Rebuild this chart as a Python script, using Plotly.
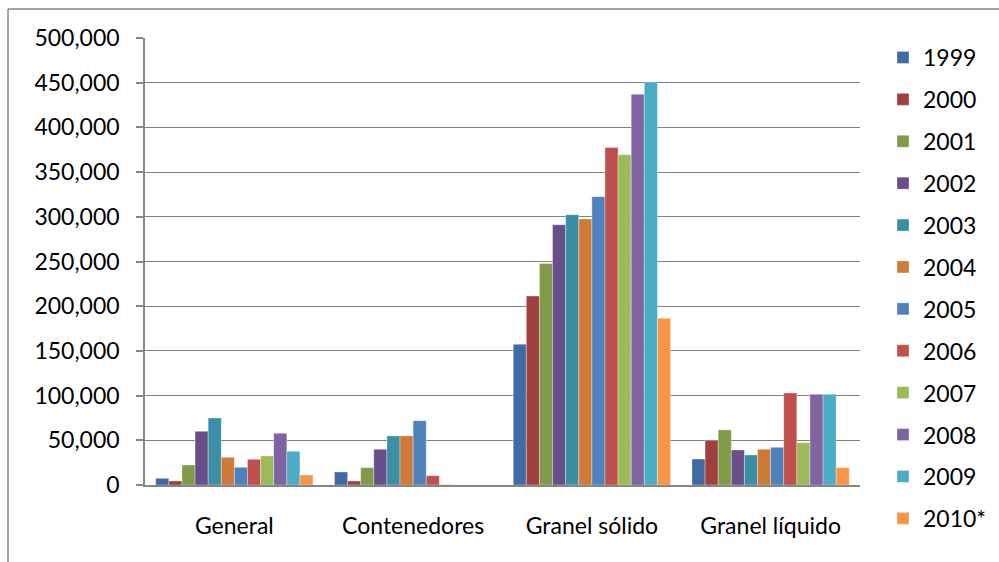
import plotly.graph_objects as go

categories = ["General", "Contenedores", "Granel sólido", "Granel líquido"]
years = ["1999", "2000", "2001", "2002", "2003", "2004",
         "2005", "2006", "2007", "2008", "2009", "2010*"]

v1999 = [7500, 14600, 157500, 29100]
v2000 = [4500, 4500, 211300, 50000]
v2001 = [22400, 19400, 247800, 61600]
v2002 = [60100, 40000, 291100, 39200]
v2003 = [75000, 54900, 302300, 33600]
v2004 = [31000, 54900, 297500, 40000]
v2005 = [19800, 72000, 322500, 42200]
v2006 = [28700, 10400, 377400, 103000]
v2007 = [32500, 500, 369500, 47400]
v2008 = [57900, 0, 437000, 101500]
v2009 = [37700, 0, 450900, 101500]
v2010 = [11200, 0, 186600, 19400]

series = [v1999, v2000, v2001, v2002, v2003, v2004,
          v2005, v2006, v2007, v2008, v2009, v2010]

colors = ["#3F6BA2", "#A0403D", "#7F9B48", "#694F8A", "#3A8EA5", "#CF7B37",
          "#4F81BD", "#C0504D", "#9BBB59", "#8064A2", "#4BACC6", "#F79646"]

W, H = 999, 562
L, R, T, B = 145, 139, 38, 77
PW, PH = W - L - R, H - T - B

fig = go.Figure()
for i, (name, vals) in enumerate(zip(years, series)):
    fig.add_trace(go.Bar(
        x=categories, y=vals, name=name,
        marker=dict(color=colors[i], line=dict(width=0.6, color="rgba(255,255,255,0.55)")),
        legendgroup=name,
    ))

def px_x(p):
    return (p - L) / PW

def px_y(p):
    return (H - B - p) / PH

font_family = "Lato, 'Open Sans', sans-serif"

fig.update_layout(
    width=W, height=H,
    margin=dict(l=L, r=R, t=T, b=B, autoexpand=False),
    paper_bgcolor="white", plot_bgcolor="white",
    barmode="group", bargap=0.12, bargroupgap=0,
    font=dict(family=font_family, size=23, color="#000000"),
    legend=dict(
        xref="container", yref="container",
        x=883 / W, y=1 - 36 / H, xanchor="left", yanchor="top",
        font=dict(size=23), tracegroupgap=9, itemwidth=30,
        bgcolor="rgba(0,0,0,0)", maxheight=560,
    ),
    xaxis=dict(
        showline=True, linecolor="#868686", linewidth=1.5,
        ticks="", ticklabelstandoff=20, showgrid=False,
    ),
    yaxis=dict(
        range=[0, 500000], dtick=50000, tickformat=",",
        showgrid=True, gridcolor="#808080", gridwidth=1.3,
        showline=True, linecolor="#868686", linewidth=1.5,
        ticks="outside", ticklen=7, tickcolor="#868686", tickwidth=1.5,
        ticklabelstandoff=12, zeroline=False,
    ),
    shapes=[
        dict(type="line", xref="paper", yref="paper",
             x0=px_x(8), x1=px_x(1000), y0=px_y(9), y1=px_y(9),
             line=dict(color="#868686", width=1.5)),
        dict(type="line", xref="paper", yref="paper",
             x0=px_x(8), x1=px_x(8), y0=px_y(9), y1=px_y(563),
             line=dict(color="#868686", width=1.5)),
    ],
)

fig.write_html("out.html")
